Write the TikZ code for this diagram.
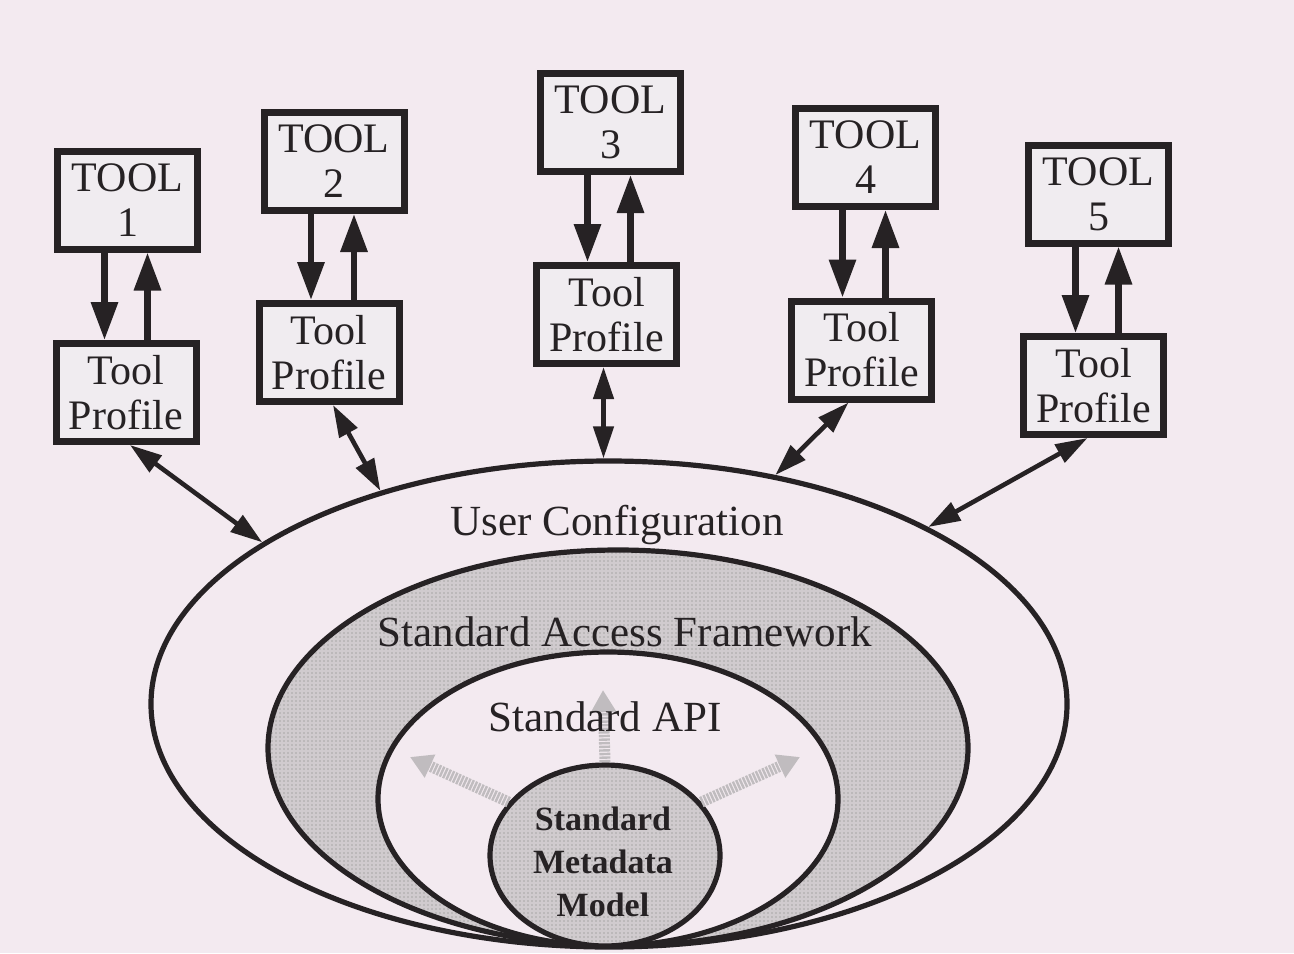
\documentclass[tikz,border=0pt]{standalone}
\usepackage{fontspec}
\setmainfont{Liberation Serif}
\usetikzlibrary{arrows.meta,shapes.geometric,patterns}
\definecolor{bg}{RGB}{243,234,240}
\definecolor{boxbg}{RGB}{240,236,240}
\definecolor{ink}{RGB}{38,34,36}
\definecolor{dotgray}{RGB}{208,203,206}
\definecolor{arrgray}{RGB}{192,188,191}
\pgfdeclarepatternformonly{mydots}{\pgfqpoint{-0.5pt}{-0.5pt}}{\pgfqpoint{0.5pt}{0.5pt}}{\pgfqpoint{2pt}{2pt}}{\pgfpathcircle{\pgfqpoint{0pt}{0pt}}{0.45pt}\pgfusepath{fill}}
\begin{document}
\begin{tikzpicture}[x=0.5pt,y=-0.5pt,
  toolbox/.style={draw=ink, line width=3.5pt, fill=boxbg, minimum width=70pt, minimum height=49pt,
    inner sep=0pt, align=center, text=ink, font=\fontsize{21}{22.5}\selectfont},
  flow/.style={draw=ink, line width=3.2pt, -{Triangle[width=13pt,length=19pt]}},
  link/.style={draw=ink, line width=2.3pt, {Triangle[width=10pt,length=16pt]}-{Triangle[width=10pt,length=16pt]}},
  ring/.style={ellipse, draw=ink, line width=2.6pt, inner sep=0pt},
  dotfill/.style={preaction={fill=dotgray}, pattern=mydots, pattern color=ink!40},
  lab/.style={text=ink, font=\fontsize{21.5}{24}\selectfont},
  garrow/.style={draw=arrgray, line width=5.5pt, dash pattern=on 1.2pt off 0.6pt, -{Triangle[width=12pt,length=11pt]}}
]
\fill[bg] (0,0) rectangle (1294,953);
\useasboundingbox (0,0) rectangle (1294,953);

% nested rings
\node[ring, fill=bg, minimum width=458pt, minimum height=243pt] (uc) at (609,704) {};
\node[ring, dotfill, minimum width=350pt, minimum height=198pt] (saf) at (618,748) {};
\node[ring, fill=bg, minimum width=230pt, minimum height=147pt] (api) at (608,799) {};
\node[ring, dotfill, minimum width=115pt, minimum height=90.5pt] (smm) at (605,855.5) {};

% faint arrows from the model
\coordinate (gl) at (410,757);
\coordinate (gr) at (800,757);
\coordinate (gu) at (603,690);
\draw[garrow] (smm.151) -- (gl);
\draw[garrow] (smm.29) -- (gr);
\draw[garrow] (smm.north) -- (gu);

% ring labels
\node[lab] (ucl) at (617,525) {User Configuration};
\node[lab] (safl) at (625,632) {Standard Access Framework};
\node[lab] (apil) at (605,717) {Standard API};
\node[text=ink, align=center, font=\bfseries\fontsize{17}{21.5}\selectfont] (smml) at (603,862) {Standard\\Metadata\\Model};

% tools and profiles
\node[toolbox] (t1) at (127.5,200) {TOOL\\1};
\node[toolbox] (p1) at (126,392.5) {Tool\\Profile};
\node[toolbox] (t2) at (334,161.5) {TOOL\\2};
\node[toolbox] (p2) at (329,352.5) {Tool\\Profile};
\node[toolbox] (t3) at (610.5,122.5) {TOOL\\3};
\node[toolbox] (p3) at (606.5,314.5) {Tool\\Profile};
\node[toolbox] (t4) at (865.5,157.5) {TOOL\\4};
\node[toolbox] (p4) at (861.5,350) {Tool\\Profile};
\node[toolbox] (t5) at (1098.5,194) {TOOL\\5};
\node[toolbox] (p5) at (1093.5,385.5) {Tool\\Profile};

\foreach \i in {1,...,5}{
  \draw[flow] ([xshift=-11.5pt]t\i.south) -- ([xshift=-11.5pt]t\i.south |- p\i.north);
  \draw[flow] ([xshift=10pt]t\i.south |- p\i.north) -- ([xshift=10pt]t\i.south);
}

% links to the user configuration
\draw[link] ([xshift=2pt]p1.south) -- (uc.155);
\draw[link] ([xshift=2pt]p2.south) -- (uc.137);
\draw[link] ([xshift=-1.5pt]p3.south) -- ([xshift=-1.5pt]p3.south |- uc.north);
\draw[link] ([xshift=-6.5pt]p4.south) -- (uc.54);
\draw[link] ([xshift=-3pt]p5.south) -- (uc.29);
\end{tikzpicture}
\end{document}
